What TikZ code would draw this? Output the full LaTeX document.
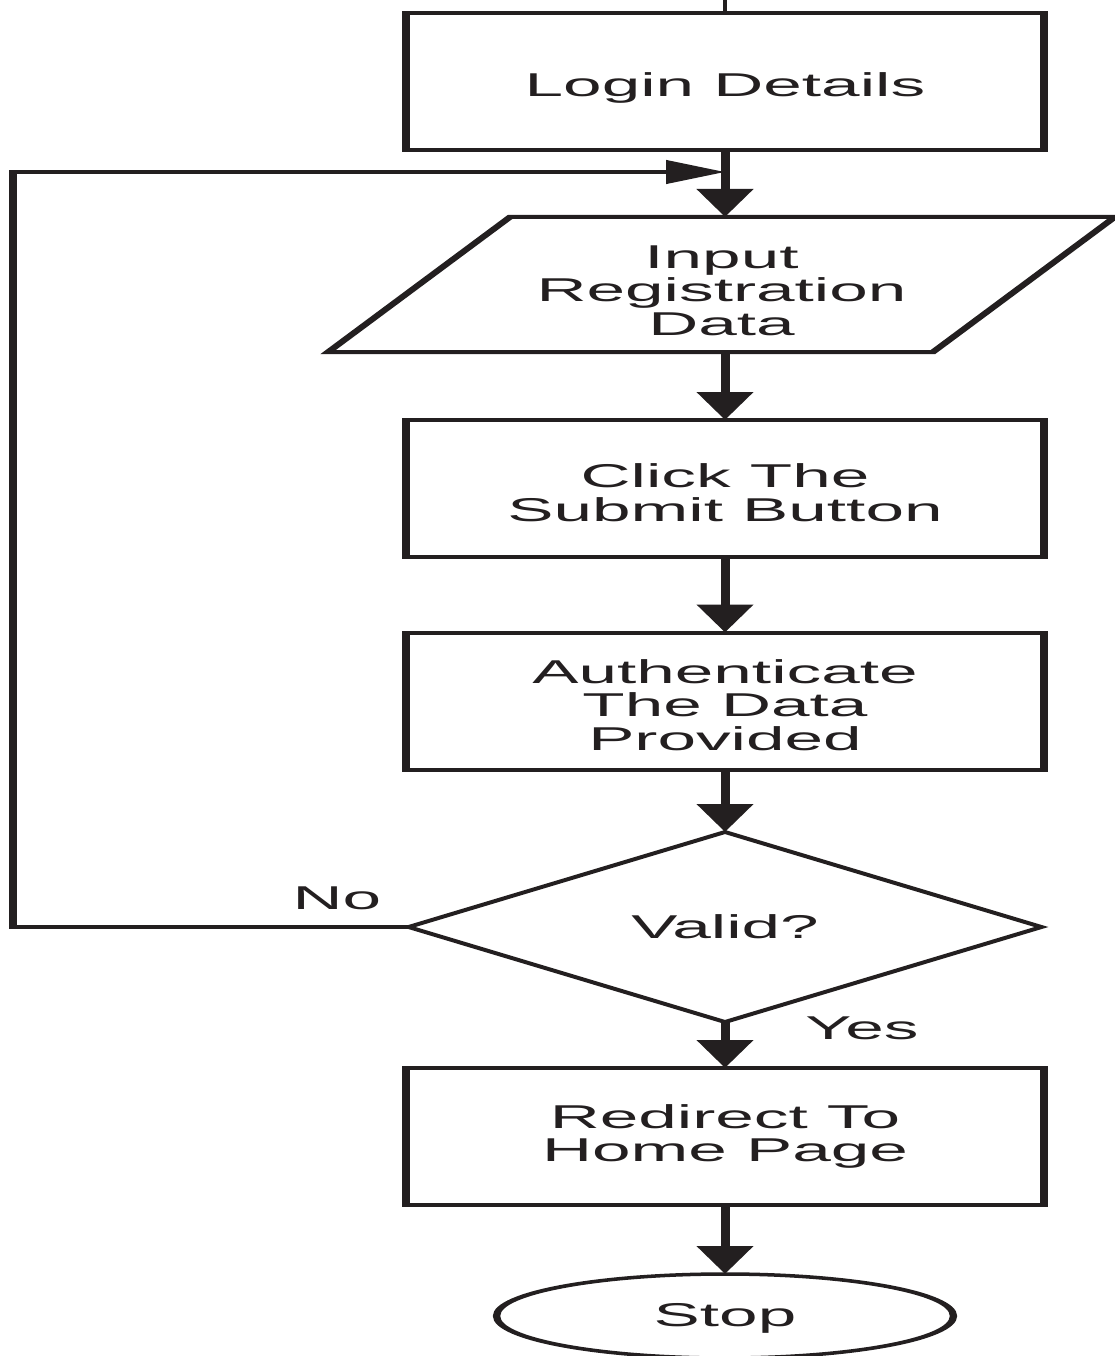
\documentclass[tikz,border=0pt]{standalone}
\usepackage{fontspec}
\setmainfont{Liberation Sans}
\usetikzlibrary{shapes.geometric,arrows.meta,calc}
\definecolor{ink}{HTML}{231F20}
\tikzset{
  every node/.style={font=\fontsize{33}{33.5}\selectfont, text=ink, align=center, outer sep=0pt},
  procbox/.style={draw=ink, line width=4pt, rectangle, minimum width=303.8pt, minimum height=137pt, inner sep=0pt},
  iobox/.style={rectangle, minimum width=288pt, minimum height=135pt, inner sep=0pt},
  ioframe/.style={draw=ink, line width=4pt, line join=miter},
  decision/.style={draw=ink, line width=3.5pt, diamond, minimum width=301.4pt, minimum height=190pt, inner sep=0pt},
  terminal/.style={draw=ink, line width=3.5pt, ellipse, minimum width=217.6pt, minimum height=84pt, inner sep=0pt},
  flow/.style={draw=ink, line width=4.3pt, -{Triangle[length=28pt,width=26pt]}},
  stub/.style={draw=ink, line width=2pt},
  loopline/.style={draw=ink, line width=4pt, -{Triangle[length=28pt,width=23pt]}},
}
\begin{document}
\begin{tikzpicture}
\useasboundingbox (0,0) rectangle (1115pt,-1356pt);
\fill[white] (0,0) rectangle (1115pt,-1356pt);
% the whole chart is drawn narrow and widened by the canvas transform
\begin{scope}[transform canvas={xscale=2.1}, x=0.476190pt, y=-1pt]
  \node[procbox, label={[yshift=-6pt]center:{Login Details}}] (login) at (725,81.5) {};
  \node[iobox, label={[yshift=-6pt]center:{Input\\Registration\\Data}}] (input) at (721.5,284.5) {};
  \draw[ioframe] ([xshift=43.3pt]input.north west) -- ([xshift=43.3pt]input.north east)
     -- ([xshift=-43.3pt]input.south east) -- ([xshift=-43.3pt]input.south west) -- cycle;
  \node[procbox, label={[yshift=-4pt]center:{Click The\\Submit Button}}] (click) at (725,488.5) {};
  \node[procbox, label={[yshift=-4pt]center:{Authenticate\\The Data\\Provided}}] (auth) at (725,701) {};
  \node[decision] (valid) at (725,927) {Valid?};
  \node[procbox] (redirect) at (725,1136.5) {Redirect To\\Home Page};
  \node[terminal, label={[yshift=-2pt]center:{Stop}}] (stop) at (725,1316) {};

  \node (no) at (337,898) {No};
  \node (yes) at (862,1028) {Yes};

  \coordinate (entry) at (725,0);
  \coordinate (loopcorner) at (13,172);
  \coordinate (merge) at (725,172);

  \draw[stub] (entry) -- (login.north);
  \draw[flow] (login.south) -- (login.south |- input.north);
  \draw[flow] (login.south |- input.south) -- (click.north);
  \draw[flow] (click.south) -- (auth.north);
  \draw[flow] (auth.south) -- (valid.north);
  \draw[flow] (valid.south) -- (redirect.north);
  \draw[flow] (redirect.south) -- (stop.north);
  \draw[loopline] (valid.west) -| (loopcorner) -- (merge);
\end{scope}
\end{tikzpicture}
\end{document}
